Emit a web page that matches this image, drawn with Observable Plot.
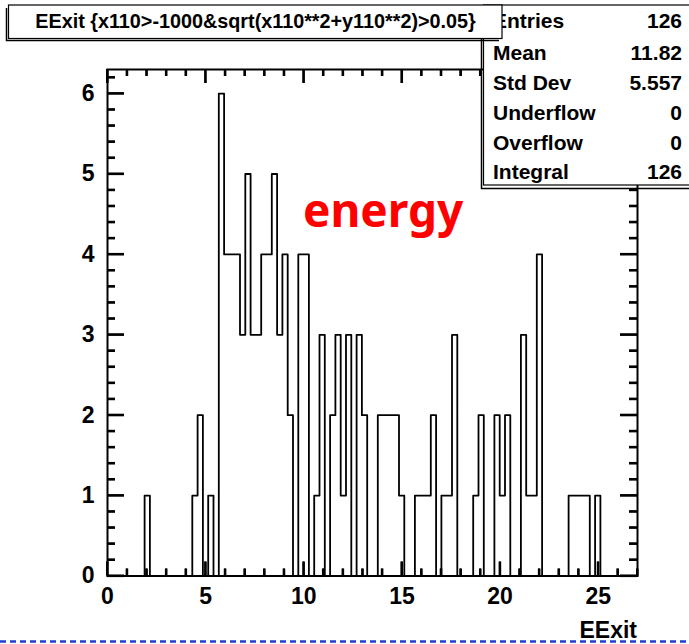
<!DOCTYPE html>
<html><head><meta charset="utf-8">
<script src="https://cdn.jsdelivr.net/npm/d3@7"></script>
<script src="https://cdn.jsdelivr.net/npm/@observablehq/plot@0.6"></script>
<style>
body{margin:0;background:#fff;}
#wrap{position:relative;width:689px;height:644px;overflow:hidden;font-family:"Liberation Sans",Arial,Helvetica,sans-serif;}
#wrap svg{position:absolute;left:0;top:0;}
</style></head><body><div id="wrap"></div>
<script>
// ---- data ----
const xMin = 0, xMax = 27, nBins = 100;
const yMax = 6.3;
const counts = [
  0,0,0,0,0,0,0,1,0,0,
  0,0,0,0,0,0,1,2,0,1,
  0,6,4,4,4,3,5,3,3,4,
  4,5,3,4,2,0,4,4,0,1,
  3,0,2,3,1,3,0,3,2,0,
  0,2,2,2,2,1,0,0,1,1,
  1,2,0,1,1,3,0,0,0,1,
  2,0,0,2,1,2,0,0,3,1,
  1,4,0,0,0,0,0,1,1,1,
  1,0,1,0,0,0,0,0,0,0
];
const xMajorTicks = [0,5,10,15,20,25];
const yMajorTicks = [0,1,2,3,4,5,6];
const titleText = "EExit {x110>-1000&sqrt(x110**2+y110**2)>0.05}";
const statsLabels = ["Entries","Mean","Std Dev","Underflow","Overflow","Integral"];
const statsValues = ["126","11.82","5.557","0","0","126"];
const xLabel = "EExit";
const annotation = "energy";

// ---- layout ----
const W = 689, H = 644;
const mL = 107, mR = 52, mT = 69, mB = 68.5;
const innerW = W - mL - mR, innerH = H - mT - mB;
const pxX = (xMax - xMin) / innerW, pxY = yMax / innerH;
const bw = (xMax - xMin) / nBins;

const steps = d3.range(nBins + 1).map(k => ({x: xMin + k * bw, y: counts[Math.min(k, nBins - 1)]}));
const xMinor = d3.range(0, 28).filter(v => v % 5 !== 0);
const yMinor = d3.range(0, 63, 2).map(v => v / 10).filter(v => Math.abs(v - Math.round(v)) > 1e-9);

const majX = 14, minX = 7, majY = 17, minY = 8;
const font = "Liberation Sans, Arial, sans-serif";

function xTicks(vals, len, top) {
  return Plot.ruleX(vals, {
    x: d => d,
    y1: d => top ? yMax - len * pxY : 0,
    y2: d => top ? yMax : len * pxY,
    stroke: "#000", strokeWidth: 2.2
  });
}
function yTicks(vals, len, right) {
  return Plot.ruleY(vals, {
    y: d => d,
    x1: d => right ? xMax - len * pxX : xMin,
    x2: d => right ? xMax : xMin + len * pxX,
    stroke: "#000", strokeWidth: 2.2
  });
}

const plot = Plot.plot({
  width: W, height: H,
  marginLeft: mL, marginRight: mR, marginTop: mT, marginBottom: mB,
  x: {domain: [xMin, xMax]},
  y: {domain: [0, yMax]},
  style: {fontFamily: font},
  marks: [
    Plot.line(steps, {x: "x", y: "y", curve: "step-after", stroke: "black", strokeWidth: 1.8}),
    xTicks(xMajorTicks, majX, false),
    xTicks(xMinor, minX, false),
    xTicks(xMajorTicks, majX, true),
    xTicks(xMinor, minX, true),
    yTicks(yMajorTicks, majY, false),
    yTicks(yMinor, minY, false),
    yTicks(yMajorTicks, majY, true),
    yTicks(yMinor, minY, true),
    Plot.axisX({ticks: xMajorTicks, tickSize: 0, tickPadding: 12, tickFormat: d3.format("d"), fontSize: 23, fontWeight: "bold", label: null, fill: "black"}),
    Plot.axisY({ticks: yMajorTicks, tickSize: 0, tickPadding: 13, tickFormat: d3.format("d"), fontSize: 23, fontWeight: "bold", label: null, fill: "black"}),
    Plot.frame({stroke: "black", strokeWidth: 2})
  ]
});
const wrap = document.getElementById("wrap");
wrap.appendChild(plot);

// ---- overlay: ticks (via the plot's own scales), boxes and texts ----
const svg = d3.select(wrap).append("svg").attr("width", W).attr("height", H)
  .style("font-family", font);

const sx = plot.scale("x"), sy = plot.scale("y");
const fx = d3.scaleLinear(sx.domain, sx.range), fy = d3.scaleLinear(sy.domain, sy.range);
const tg = svg.append("g").attr("stroke", "#000").attr("stroke-width", 2);
const x0 = fx(xMin), x1 = fx(xMax), y0 = fy(0), y1 = fy(yMax);
xMajorTicks.concat(xMinor).forEach(v => {
  const len = xMajorTicks.includes(v) ? majX : minX;
  tg.append("line").attr("x1", fx(v)).attr("x2", fx(v)).attr("y1", y0).attr("y2", y0 - len);
  tg.append("line").attr("x1", fx(v)).attr("x2", fx(v)).attr("y1", y1).attr("y2", y1 + len);
});
yMajorTicks.concat(yMinor).forEach(v => {
  const len = yMajorTicks.includes(v) ? majY : minY;
  tg.append("line").attr("y1", fy(v)).attr("y2", fy(v)).attr("x1", x0).attr("x2", x0 + len);
  tg.append("line").attr("y1", fy(v)).attr("y2", fy(v)).attr("x1", x1).attr("x2", x1 - len);
});

// stats box (shadow + box)
svg.append("path").attr("d", `M481.5,8 V188.5 H${W}`).attr("fill", "none").attr("stroke", "black").attr("stroke-width", 1.5);
svg.append("rect").attr("x", 483.5).attr("y", 5).attr("width", 220).attr("height", 180)
  .attr("fill", "white").attr("stroke", "black").attr("stroke-width", 1.2);
const rowY = [28, 60, 90, 120, 150, 179];
statsLabels.forEach((s, i) => {
  svg.append("text").attr("x", 493).attr("y", rowY[i]).attr("font-size", 21).attr("font-weight", "bold").text(s);
  svg.append("text").attr("x", 682).attr("y", rowY[i]).attr("font-size", 21).attr("font-weight", "bold")
    .attr("text-anchor", "end").text(statsValues[i]);
});

// title box (shadow + box)
svg.append("path").attr("d", "M6.5,8 V40.5 H499").attr("fill", "none").attr("stroke", "black").attr("stroke-width", 1.5);
svg.append("rect").attr("x", 8.5).attr("y", 5).attr("width", 493.5).attr("height", 33.5)
  .attr("fill", "white").attr("stroke", "black").attr("stroke-width", 1.2);
svg.append("text").attr("x", 255.5).attr("y", 28.3).attr("font-size", 19.8).attr("font-weight", "bold")
  .attr("text-anchor", "middle").text(titleText);

// annotation
svg.append("text").attr("x", 303).attr("y", 226.5).attr("font-size", 46).attr("font-weight", "bold")
  .attr("font-family", "Noto Sans, Open Sans, sans-serif").attr("fill", "#ff0000").text(annotation);

// x axis title
svg.append("text").attr("x", 637).attr("y", 638).attr("font-size", 23).attr("font-weight", "bold")
  .attr("text-anchor", "end").text(xLabel);

// blue dashed line at the bottom
svg.append("line").attr("x1", 0).attr("x2", W).attr("y1", 641.5).attr("y2", 641.5)
  .attr("stroke", "#1f3fcf").attr("stroke-width", 2.5).attr("stroke-dasharray", "6,4");
</script>
</body></html>
